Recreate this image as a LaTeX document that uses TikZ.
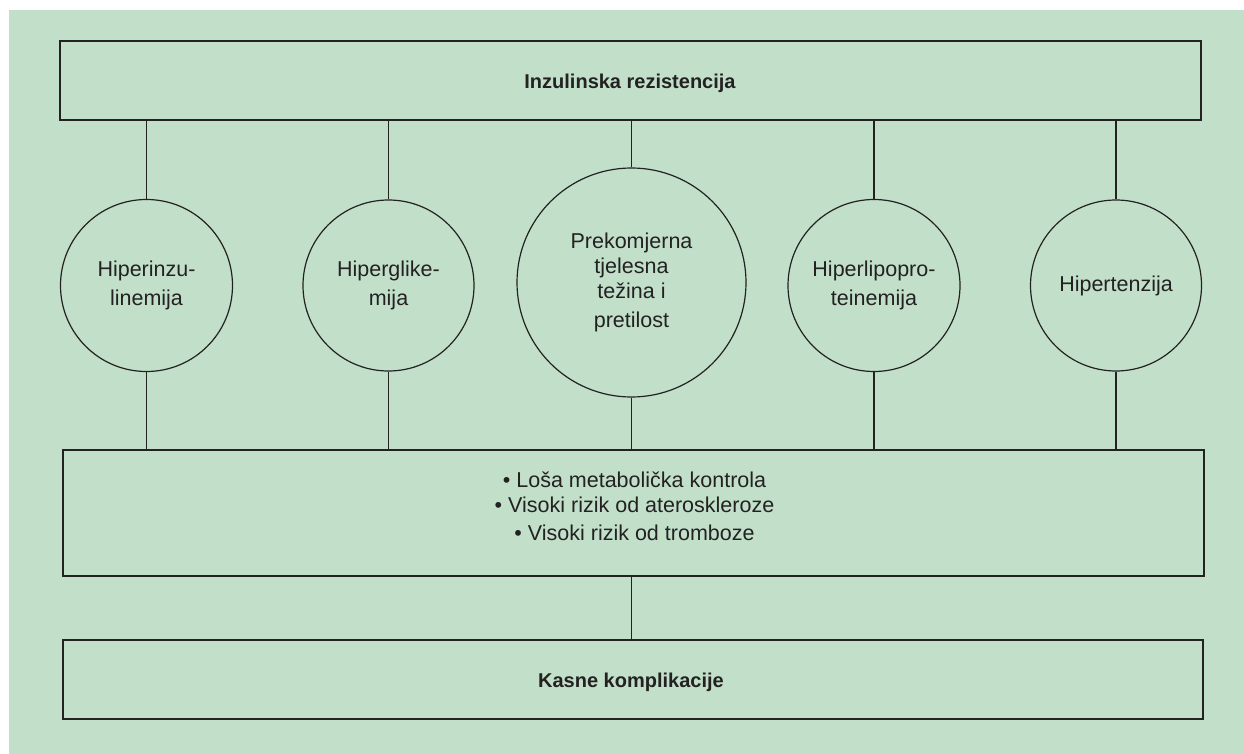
\documentclass[tikz,border=0pt]{standalone}
\usepackage{fontspec}
\setmainfont{Liberation Sans}
\definecolor{bg}{RGB}{194,224,201}
\definecolor{ink}{RGB}{35,33,34}
\begin{document}
\begin{tikzpicture}[x=1pt,y=-1pt,
  box/.style={draw=ink, line width=1.2pt, rectangle, inner sep=0pt},
  bubble/.style={draw=ink, line width=1.2pt, circle, inner sep=0pt, align=center, text=ink, font=\fontsize{21.5}{29}\selectfont},
  head/.style={text=ink, font=\fontsize{20}{24}\selectfont\bfseries, inner sep=0pt},
  bullets/.style={text=ink, font=\fontsize{21.5}{25}\selectfont, inner sep=0pt, align=center},
  link/.style={draw=ink, line width=1.2pt}]
\useasboundingbox (0,0) rectangle (1244,754);
\fill[white] (0,0) rectangle (1244,754);
\fill[bg] (9,10) rectangle (1244,754);
% boxes
\node[box, minimum width=1141pt, minimum height=79pt] (top) at (630.5,80.5) {};
\node[head] (toptext) at (630,83.8) {Inzulinska rezistencija};
\node[box, minimum width=1141pt, minimum height=126pt] (mid) at (633.5,513) {};
\node[bullets] (midtext) at (634.5,506.5) {• Loša metabolička kontrola\\[0pt]• Visoki rizik od ateroskleroze\\[3pt]• Visoki rizik od tromboze};
\node[box, minimum width=1140pt, minimum height=79pt] (bot) at (633,679.5) {};
\node[head] (bottext) at (631,682.8) {Kasne komplikacije};
% circles
\node[bubble, minimum size=172pt] (c1) at (146.5,285.5) {Hiperinzu-\\linemija};
\node[bubble, minimum size=171pt] (c2) at (388.5,285.5) {Hiperglike-\\mija};
\node[bubble, minimum size=229pt] (c3) at (631.5,282.5) {Prekomjerna\\[-4pt]tjelesna\\[-4pt]težina i\\pretilost};
\node[bubble, minimum size=172pt] (c4) at (874,285.5) {Hiperlipopro-\\teinemija};
\node[bubble, minimum size=171pt] (c5) at (1116,285.5) {Hipertenzija};
% connectors
\foreach \c in {c1,c2,c3,c4,c5}{
  \draw[link] (top.south -| \c.north) -- (\c.north);
  \draw[link] (\c.south) -- (mid.north -| \c.south);
}
\draw[link] (mid.south -| c3.south) -- (bot.north -| c3.south);
\end{tikzpicture}
\end{document}
